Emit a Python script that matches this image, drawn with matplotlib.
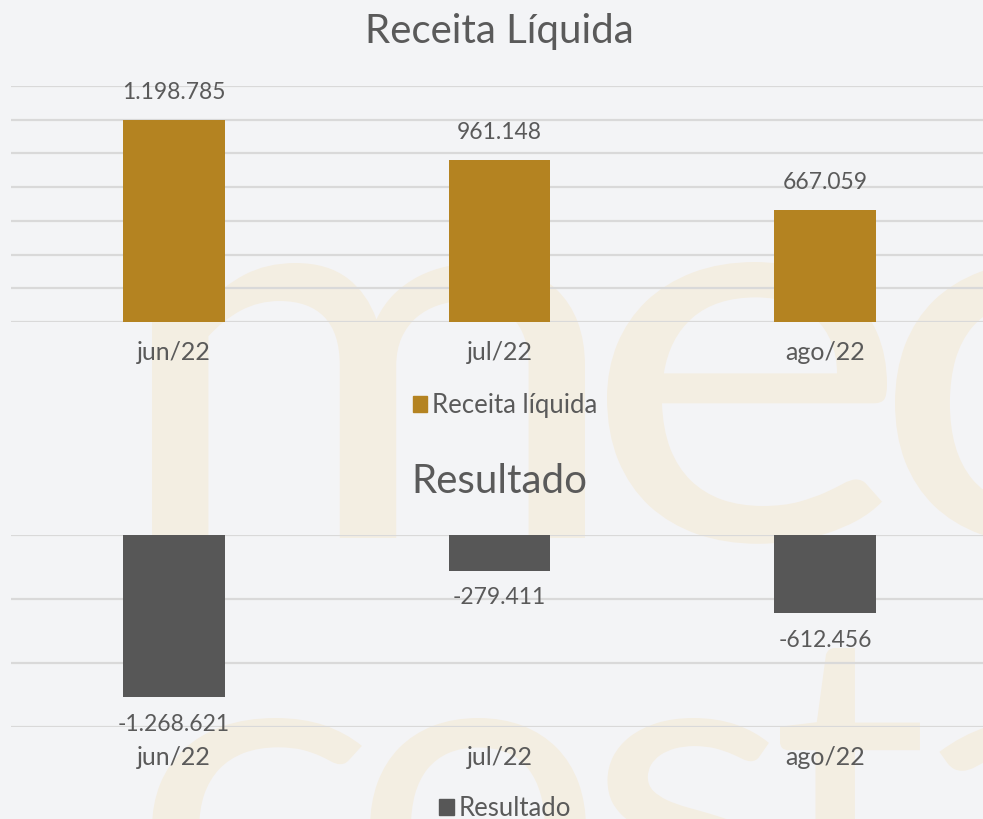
import matplotlib
matplotlib.use("Agg")
import matplotlib.pyplot as plt
from matplotlib.patches import Patch, PathPatch
from matplotlib.textpath import TextPath
from matplotlib.font_manager import FontProperties
from matplotlib.transforms import Affine2D

categories = ["jun/22", "jul/22", "ago/22"]
receita = [1198785, 961148, 667059]
resultado = [-1268621, -279411, -612456]
receita_labels = ["1.198.785", "961.148", "667.059"]
resultado_labels = ["-1.268.621", "-279.411", "-612.456"]

BG = "#f3f4f6"
GOLD = "#b48321"
DARK = "#575757"
TXT = "#5a5a5a"
GRID = "#d9d9d9"
WM = "#f3eee2"

plt.rcParams['font.family'] = ['Lato', 'DejaVu Sans']
plt.rcParams['font.weight'] = 'normal'

W, H = 983, 819
fig = plt.figure(figsize=(W / 100, H / 100), dpi=100, facecolor=BG)

# ---- watermark (decorative logo letters) ----
wm_font = FontProperties(family="Lato", weight="normal")


def glyph(ch, left, right, top, base):
    tp = TextPath((0, 0), ch, size=100, prop=wm_font)
    ext = tp.get_extents()
    sx = (right - left) / ext.width
    sy = (base - top) / ext.y1
    tr = (Affine2D().translate(-ext.x0, 0).scale(sx, sy)
          .translate(left, H - base).scale(1 / W, 1 / H) + fig.transFigure)
    p = PathPatch(tp, transform=tr, facecolor=WM, edgecolor="none", zorder=-1)
    fig.add_artist(p)


glyph("m", 152, 585, 263, 538)
glyph("e", 607, 887, 262, 540)
glyph("o", 895, 1185, 262, 540)
glyph("c", 152, 365, 718, 935)
glyph("o", 370, 586, 718, 935)
glyph("s", 601, 773, 718, 935)
glyph("t", 780, 925, 648, 935)
glyph("a", 926, 1140, 718, 935)

x = list(range(len(categories)))

# ---- Receita ----
ax1 = fig.add_axes([0.01144, 0.6068, 0.9934, 0.2882])
ax1.set_facecolor("none")
ax1.bar(x, receita, width=0.313, color=GOLD, zorder=3)
ax1.set_ylim(0, 1400000)
ax1.set_xlim(-0.5, 2.5)
ax1.set_yticks(range(0, 1400001, 200000))
ax1.yaxis.grid(True, color=GRID, linewidth=1.6, zorder=0)
ax1.set_yticklabels([])
ax1.tick_params(axis="y", length=0)
ax1.set_xticks(x)
ax1.set_xticklabels(categories, fontsize=18, color=TXT)
ax1.tick_params(axis="x", length=0, pad=14)
for s in ax1.spines.values():
    s.set_visible(False)
for xi, v, lab in zip(x, receita, receita_labels):
    ax1.annotate(lab, (xi, v), xytext=(0, 12), textcoords="offset points",
                 ha="center", va="bottom", fontsize=16.5, color=TXT)
fig.text(0.508, 0.962, "Receita Líquida", fontsize=29, color=TXT, ha="center", va="center")
fig.legend(handles=[Patch(color=GOLD, label="Receita líquida")], loc="center",
           bbox_to_anchor=(0.514, 0.505), frameon=False, fontsize=18.5,
           labelcolor=TXT, handlelength=0.55, handleheight=0.55, handletextpad=0.2)

# ---- Resultado ----
ax2 = fig.add_axes([0.01144, 0.1123, 0.9934, 0.2344])
ax2.set_facecolor("none")
ax2.bar(x, resultado, width=0.313, color=DARK, zorder=3)
ax2.set_ylim(-1500000, 0)
ax2.set_xlim(-0.5, 2.5)
ax2.set_yticks(range(-1500000, 1, 500000))
ax2.yaxis.grid(True, color=GRID, linewidth=1.6, zorder=0)
ax2.set_yticklabels([])
ax2.tick_params(axis="y", length=0)
ax2.set_xticks(x)
ax2.set_xticklabels(categories, fontsize=18, color=TXT)
ax2.tick_params(axis="x", length=0, pad=14)
for s in ax2.spines.values():
    s.set_visible(False)
for xi, v, lab in zip(x, resultado, resultado_labels):
    ax2.annotate(lab, (xi, v), xytext=(0, -12), textcoords="offset points",
                 ha="center", va="top", fontsize=16.5, color=TXT)
fig.text(0.508, 0.4125, "Resultado", fontsize=29, color=TXT, ha="center", va="center")
fig.legend(handles=[Patch(color=DARK, label="Resultado")], loc="center",
           bbox_to_anchor=(0.514, 0.013), frameon=False, fontsize=18.5,
           labelcolor=TXT, handlelength=0.55, handleheight=0.55, handletextpad=0.2)

fig.savefig("out.png", dpi=100, facecolor=BG)
